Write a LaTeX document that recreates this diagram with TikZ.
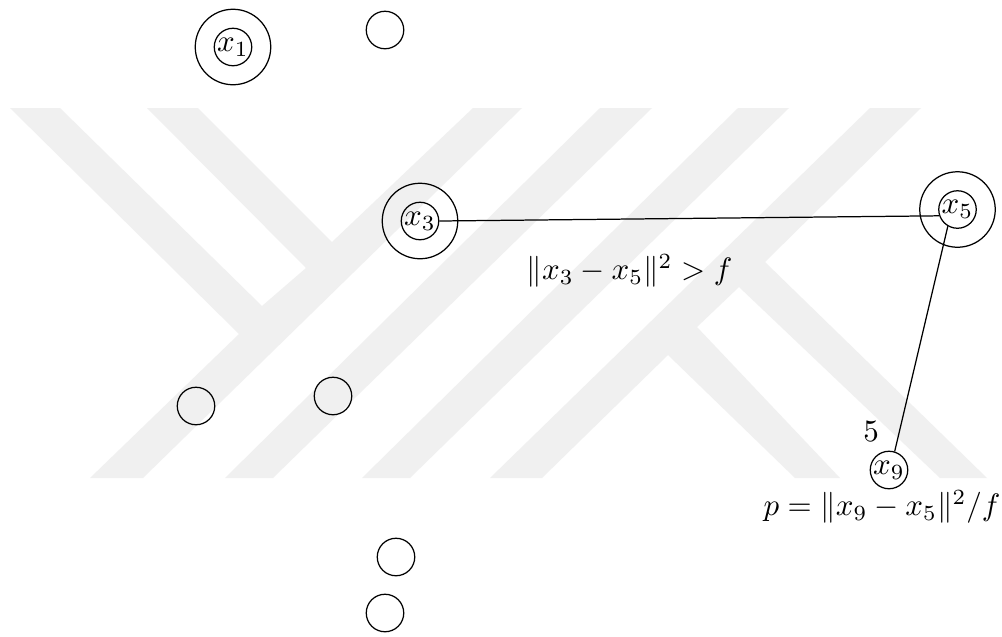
\documentclass[tikz,border=0pt]{standalone}
\begin{document}
\begin{tikzpicture}[x=0.3226pt,y=-0.3226pt,
  mark shape/.style={fill=wmgray,draw=none},
  inner/.style={circle,draw=black,line width=0.4pt,minimum size=37.5*0.3226pt,inner sep=0pt},
  outer/.style={circle,draw=black,line width=0.4pt,minimum size=75.5*0.3226pt,inner sep=0pt},
  link/.style={draw=black,line width=0.4pt},
  lab/.style={inner sep=0pt,anchor=center}]
\definecolor{wmgray}{HTML}{F0F0F0}
\useasboundingbox (0,0) rectangle (1002,636);
\fill[white] (0,0) rectangle (1002,636);
% watermark
\path[mark shape] (10,108)--(60,108)--(262,306)--(306,268)--(147,108)--(198,108)--(332,242)--(473,108)--(522,108)--(143,478)--(90,478)--(239,334)--cycle;
\path[mark shape] (225,478)--(273,478)--(652,108)--(600,108)--cycle;
\path[mark shape] (362,478)--(410,478)--(789,108)--(738,108)--cycle;
\path[mark shape] (870,108)--(921,108)--(765,262)--(987,478)--(940,478)--(739,287)--(697,327)--(840,478)--(795,478)--(668,355)--(542,478)--(490,478)--cycle;
% circles
\node[outer] (o1) at (233,47) {};
\node[inner] (x1) at (233,47) {$x_1$};
\node[inner] (e1) at (385,30) {};
\node[outer] (o3) at (420,221) {};
\node[inner] (x3) at (420,221) {$x_3$};
\node[outer] (o5) at (957.5,209.5) {};
\node[inner] (x5) at (957.5,209.5) {$x_5$};
\node[inner] (x9) at (889,470) {$x_9$};
\node[inner] (e2) at (196,406) {};
\node[inner] (e3) at (333,396) {};
\node[inner] (e4) at (396,557) {};
\node[inner] (e5) at (385,613) {};
% connectors
\draw[link] (x3.east) -- (x5.199);
\draw[link] (x5.240) -- (x9.73);
% labels
\node[lab] (l1) at (629.5,271) {$\|x_3-x_5\|^2>f$};
\node[lab] (l2) at (871,432) {$5$};
\node[lab] (l3) at (882,507) {$p=\|x_9-x_5\|^2/f$};
\end{tikzpicture}
\end{document}
